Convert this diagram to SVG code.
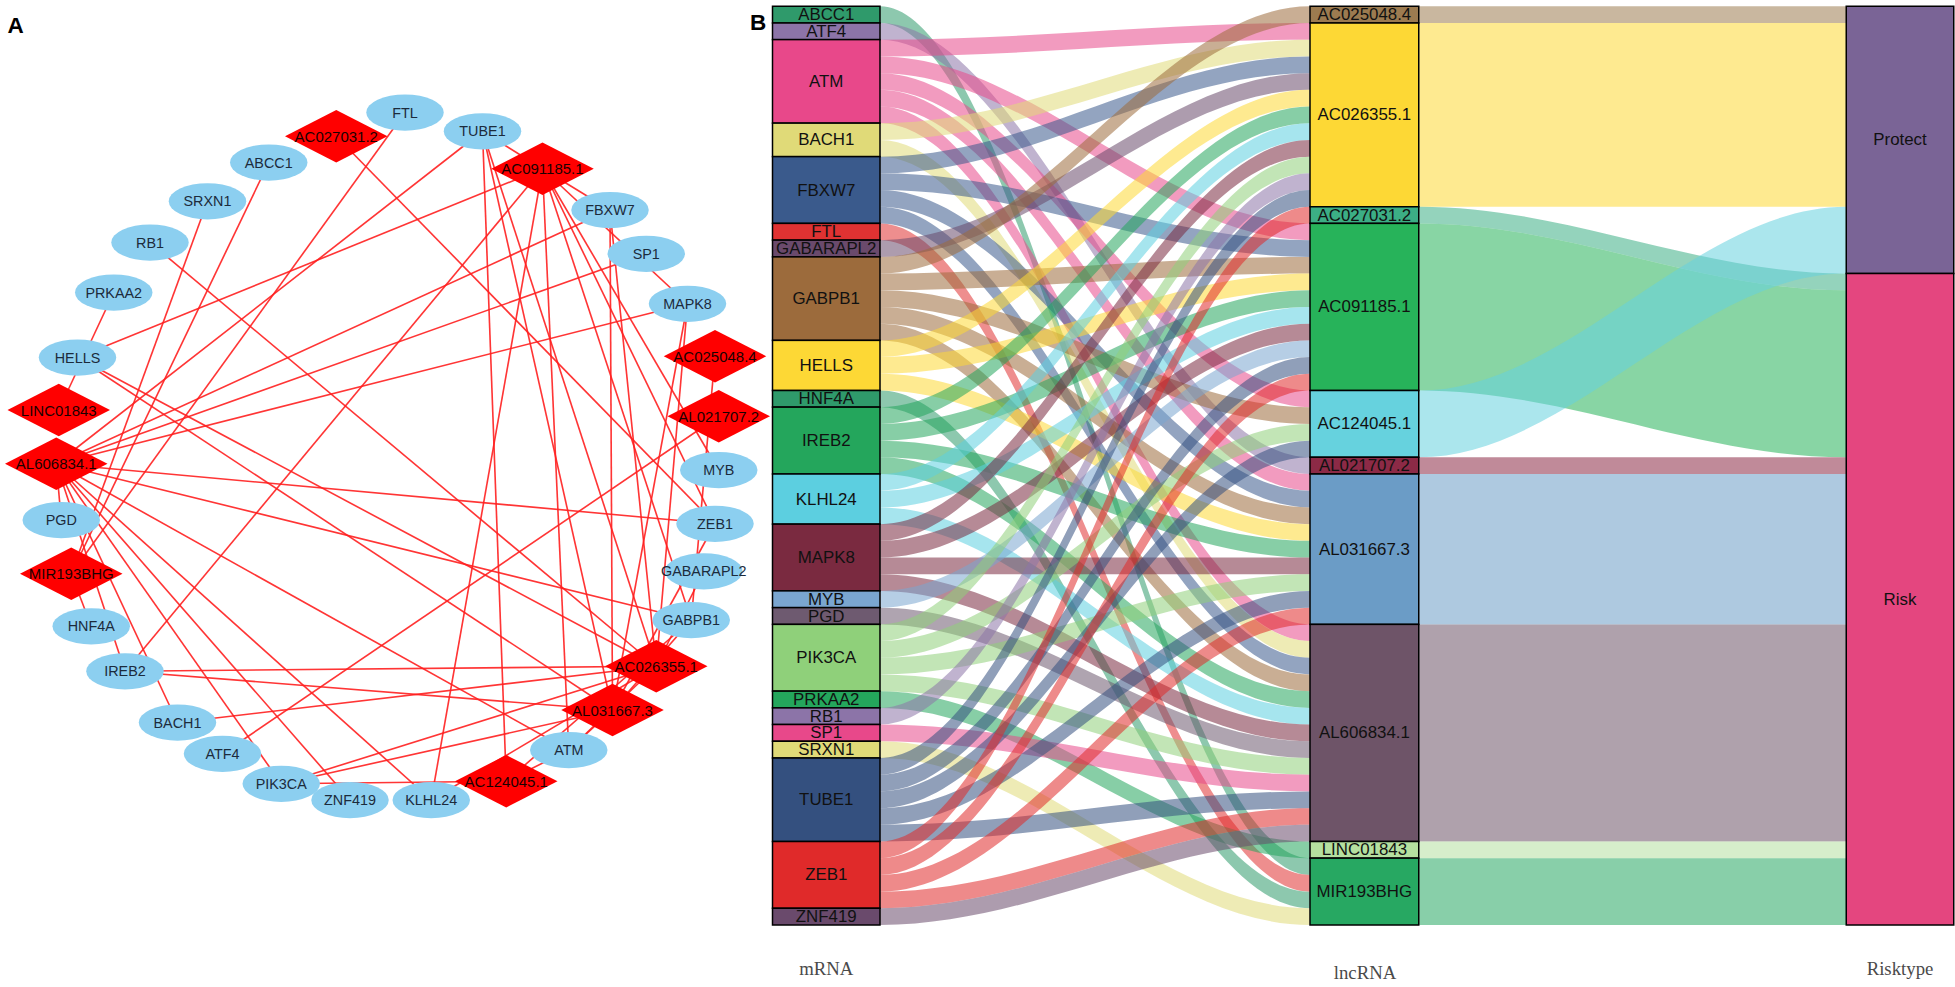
<svg xmlns="http://www.w3.org/2000/svg" width="1955" height="987" viewBox="0 0 1955 987">
<style>
.pl{font-family:"Liberation Sans",Arial,sans-serif;font-weight:bold;font-size:18px;fill:#000}
.el{fill:#8ccff0}
.dm{fill:#ff0000}
.nl{font-family:"Liberation Sans",Arial,sans-serif;font-size:11.5px;fill:#1c2b3c;text-anchor:middle;dominant-baseline:central}
.dl{font-family:"Liberation Sans",Arial,sans-serif;font-size:12px;fill:#1a0000;text-anchor:middle;dominant-baseline:central}
#edges-A line{stroke:#ff2020;stroke-width:1.3;opacity:0.9}
.box{stroke:#000;stroke-width:1.2}
.bl{font-family:"Liberation Sans",Arial,sans-serif;font-size:13.5px;fill:#111;text-anchor:middle;dominant-baseline:central}
.flow{fill-opacity:0.55}
.ax{font-family:"Liberation Serif","Times New Roman",serif;font-size:15px;fill:#4a4a4a;text-anchor:middle}
.ABCC1{fill:#2f9a6b}.ATF4{fill:#8c74a8}.ATM{fill:#e8488a}.BACH1{fill:#e0da78}.FBXW7{fill:#3a5a8c}.FTL{fill:#e03232}
.GABARAPL2{fill:#6a4a6c}.GABPB1{fill:#9c6b3c}.HELLS{fill:#fdd835}.HNF4A{fill:#2f9a6b}.IREB2{fill:#24a65c}.KLHL24{fill:#5ccfe0}
.MAPK8{fill:#7a2a40}.MYB{fill:#7aa6d0}.PGD{fill:#6e5a70}.PIK3CA{fill:#8fd07a}.PRKAA2{fill:#24a65c}.RB1{fill:#8c74a8}
.SP1{fill:#e8488a}.SRXN1{fill:#e0da78}.TUBE1{fill:#34507f}.ZEB1{fill:#e02a2a}.ZNF419{fill:#6a4a6c}
.L1{fill:#9c7b50}.L2{fill:#fdd835}.L3{fill:#3cae85}.L4{fill:#27b35a}.L5{fill:#66d2de}.L6{fill:#8c2a46}.L7{fill:#6b9cc6}.L8{fill:#6e5468}.L9{fill:#b5e0a0}.L10{fill:#27a862}
.PROT{fill:#7a6496}.RISK{fill:#e4467f}
</style>
<rect width="1955" height="987" fill="#fff"/>
<g transform="scale(1.25)">
<text class="pl" x="6" y="26">A</text>
<g id="edges-A">
<line x1="215" y1="130" x2="57" y2="459"/>
<line x1="178" y1="603" x2="575" y2="333"/>
<line x1="455" y1="600" x2="525" y2="533"/>
<line x1="455" y1="600" x2="434" y2="135"/>
<line x1="455" y1="600" x2="405" y2="625"/>
<line x1="455" y1="600" x2="490" y2="568"/>
<line x1="455" y1="600" x2="45" y2="371"/>
<line x1="142" y1="578" x2="525" y2="533"/>
<line x1="142" y1="578" x2="45" y2="371"/>
<line x1="488" y1="168" x2="525" y2="533"/>
<line x1="488" y1="168" x2="434" y2="135"/>
<line x1="488" y1="168" x2="490" y2="568"/>
<line x1="488" y1="168" x2="45" y2="371"/>
<line x1="324" y1="90" x2="57" y2="459"/>
<line x1="563" y1="457" x2="525" y2="533"/>
<line x1="553" y1="496" x2="572" y2="285"/>
<line x1="553" y1="496" x2="434" y2="135"/>
<line x1="553" y1="496" x2="405" y2="625"/>
<line x1="553" y1="496" x2="490" y2="568"/>
<line x1="553" y1="496" x2="45" y2="371"/>
<line x1="62" y1="286" x2="525" y2="533"/>
<line x1="62" y1="286" x2="434" y2="135"/>
<line x1="62" y1="286" x2="490" y2="568"/>
<line x1="73" y1="501" x2="57" y2="459"/>
<line x1="100" y1="537" x2="525" y2="533"/>
<line x1="100" y1="537" x2="434" y2="135"/>
<line x1="100" y1="537" x2="490" y2="568"/>
<line x1="100" y1="537" x2="45" y2="371"/>
<line x1="345" y1="640" x2="525" y2="533"/>
<line x1="345" y1="640" x2="434" y2="135"/>
<line x1="345" y1="640" x2="45" y2="371"/>
<line x1="550" y1="243" x2="525" y2="533"/>
<line x1="550" y1="243" x2="434" y2="135"/>
<line x1="550" y1="243" x2="490" y2="568"/>
<line x1="550" y1="243" x2="45" y2="371"/>
<line x1="575" y1="376" x2="434" y2="135"/>
<line x1="49" y1="416" x2="45" y2="371"/>
<line x1="225" y1="627" x2="525" y2="533"/>
<line x1="225" y1="627" x2="405" y2="625"/>
<line x1="225" y1="627" x2="490" y2="568"/>
<line x1="225" y1="627" x2="45" y2="371"/>
<line x1="91" y1="234" x2="47" y2="328"/>
<line x1="120" y1="194" x2="525" y2="533"/>
<line x1="517" y1="203" x2="45" y2="371"/>
<line x1="166" y1="161" x2="57" y2="459"/>
<line x1="386" y1="105" x2="525" y2="533"/>
<line x1="386" y1="105" x2="434" y2="135"/>
<line x1="386" y1="105" x2="405" y2="625"/>
<line x1="386" y1="105" x2="490" y2="568"/>
<line x1="386" y1="105" x2="45" y2="371"/>
<line x1="572" y1="419" x2="269" y2="109"/>
<line x1="572" y1="419" x2="434" y2="135"/>
<line x1="572" y1="419" x2="490" y2="568"/>
<line x1="572" y1="419" x2="45" y2="371"/>
<line x1="280" y1="640" x2="45" y2="371"/>
</g>
<g id="nodes-A">
<g id="A-FTL"><ellipse class="el" cx="324" cy="90" rx="31" ry="14.5"/><text class="nl" x="324" y="90">FTL</text></g>
<g id="A-TUBE1"><ellipse class="el" cx="386" cy="105" rx="31" ry="14.5"/><text class="nl" x="386" y="105">TUBE1</text></g>
<g id="A-ABCC1"><ellipse class="el" cx="215" cy="130" rx="31" ry="14.5"/><text class="nl" x="215" y="130">ABCC1</text></g>
<g id="A-SRXN1"><ellipse class="el" cx="166" cy="161" rx="31" ry="14.5"/><text class="nl" x="166" y="161">SRXN1</text></g>
<g id="A-FBXW7"><ellipse class="el" cx="488" cy="168" rx="31" ry="14.5"/><text class="nl" x="488" y="168">FBXW7</text></g>
<g id="A-RB1"><ellipse class="el" cx="120" cy="194" rx="31" ry="14.5"/><text class="nl" x="120" y="194">RB1</text></g>
<g id="A-SP1"><ellipse class="el" cx="517" cy="203" rx="31" ry="14.5"/><text class="nl" x="517" y="203">SP1</text></g>
<g id="A-PRKAA2"><ellipse class="el" cx="91" cy="234" rx="31" ry="14.5"/><text class="nl" x="91" y="234">PRKAA2</text></g>
<g id="A-MAPK8"><ellipse class="el" cx="550" cy="243" rx="31" ry="14.5"/><text class="nl" x="550" y="243">MAPK8</text></g>
<g id="A-HELLS"><ellipse class="el" cx="62" cy="286" rx="31" ry="14.5"/><text class="nl" x="62" y="286">HELLS</text></g>
<g id="A-MYB"><ellipse class="el" cx="575" cy="376" rx="31" ry="14.5"/><text class="nl" x="575" y="376">MYB</text></g>
<g id="A-PGD"><ellipse class="el" cx="49" cy="416" rx="31" ry="14.5"/><text class="nl" x="49" y="416">PGD</text></g>
<g id="A-ZEB1"><ellipse class="el" cx="572" cy="419" rx="31" ry="14.5"/><text class="nl" x="572" y="419">ZEB1</text></g>
<g id="A-GABARAPL2"><ellipse class="el" cx="563" cy="457" rx="31" ry="14.5"/><text class="nl" x="563" y="457">GABARAPL2</text></g>
<g id="A-GABPB1"><ellipse class="el" cx="553" cy="496" rx="31" ry="14.5"/><text class="nl" x="553" y="496">GABPB1</text></g>
<g id="A-HNF4A"><ellipse class="el" cx="73" cy="501" rx="31" ry="14.5"/><text class="nl" x="73" y="501">HNF4A</text></g>
<g id="A-IREB2"><ellipse class="el" cx="100" cy="537" rx="31" ry="14.5"/><text class="nl" x="100" y="537">IREB2</text></g>
<g id="A-BACH1"><ellipse class="el" cx="142" cy="578" rx="31" ry="14.5"/><text class="nl" x="142" y="578">BACH1</text></g>
<g id="A-ATM"><ellipse class="el" cx="455" cy="600" rx="31" ry="14.5"/><text class="nl" x="455" y="600">ATM</text></g>
<g id="A-ATF4"><ellipse class="el" cx="178" cy="603" rx="31" ry="14.5"/><text class="nl" x="178" y="603">ATF4</text></g>
<g id="A-PIK3CA"><ellipse class="el" cx="225" cy="627" rx="31" ry="14.5"/><text class="nl" x="225" y="627">PIK3CA</text></g>
<g id="A-ZNF419"><ellipse class="el" cx="280" cy="640" rx="31" ry="14.5"/><text class="nl" x="280" y="640">ZNF419</text></g>
<g id="A-KLHL24"><ellipse class="el" cx="345" cy="640" rx="31" ry="14.5"/><text class="nl" x="345" y="640">KLHL24</text></g>
<g id="A-AC027031.2"><polygon class="dm" points="228,109 269,88 310,109 269,130"/><text class="dl" x="269" y="109">AC027031.2</text></g>
<g id="A-AC091185.1"><polygon class="dm" points="393,135 434,114 475,135 434,156"/><text class="dl" x="434" y="135">AC091185.1</text></g>
<g id="A-AC025048.4"><polygon class="dm" points="531,285 572,264 613,285 572,306"/><text class="dl" x="572" y="285">AC025048.4</text></g>
<g id="A-LINC01843"><polygon class="dm" points="6,328 47,307 88,328 47,349"/><text class="dl" x="47" y="328">LINC01843</text></g>
<g id="A-AL021707.2"><polygon class="dm" points="534,333 575,312 616,333 575,354"/><text class="dl" x="575" y="333">AL021707.2</text></g>
<g id="A-AL606834.1"><polygon class="dm" points="4,371 45,350 86,371 45,392"/><text class="dl" x="45" y="371">AL606834.1</text></g>
<g id="A-MIR193BHG"><polygon class="dm" points="16,459 57,438 98,459 57,480"/><text class="dl" x="57" y="459">MIR193BHG</text></g>
<g id="A-AC026355.1"><polygon class="dm" points="484,533 525,512 566,533 525,554"/><text class="dl" x="525" y="533">AC026355.1</text></g>
<g id="A-AL031667.3"><polygon class="dm" points="449,568 490,547 531,568 490,589"/><text class="dl" x="490" y="568">AL031667.3</text></g>
<g id="A-AC124045.1"><polygon class="dm" points="364,625 405,604 446,625 405,646"/><text class="dl" x="405" y="625">AC124045.1</text></g>
</g>
<g id="flows-B">
<path class="flow ABCC1" d="M704,5C824,5 928,686.5 1048,686.5V699.9C928,699.9 824,18.4 704,18.4Z"/>
<path class="flow ATF4" d="M704,18.4C824,18.4 928,365.8 1048,365.8V379.2C928,379.2 824,31.7 704,31.7Z"/>
<path class="flow ATM" d="M704,31.7C824,31.7 928,18.4 1048,18.4V31.7C928,31.7 824,45.1 704,45.1Z"/>
<path class="flow ATM" d="M704,45.1C824,45.1 928,178.7 1048,178.7V192.1C928,192.1 824,58.5 704,58.5Z"/>
<path class="flow ATM" d="M704,58.5C824,58.5 928,312.4 1048,312.4V325.7C928,325.7 824,71.8 704,71.8Z"/>
<path class="flow ATM" d="M704,71.8C824,71.8 928,379.2 1048,379.2V392.5C928,392.5 824,85.2 704,85.2Z"/>
<path class="flow ATM" d="M704,85.2C824,85.2 928,499.5 1048,499.5V512.8C928,512.8 824,98.5 704,98.5Z"/>
<path class="flow BACH1" d="M704,98.5C824,98.5 928,31.7 1048,31.7V45.1C928,45.1 824,111.9 704,111.9Z"/>
<path class="flow BACH1" d="M704,111.9C824,111.9 928,512.8 1048,512.8V526.2C928,526.2 824,125.3 704,125.3Z"/>
<path class="flow FBXW7" d="M704,125.3C824,125.3 928,45.1 1048,45.1V58.5C928,58.5 824,138.6 704,138.6Z"/>
<path class="flow FBXW7" d="M704,138.6C824,138.6 928,192.1 1048,192.1V205.5C928,205.5 824,152 704,152Z"/>
<path class="flow FBXW7" d="M704,152C824,152 928,392.5 1048,392.5V405.9C928,405.9 824,165.4 704,165.4Z"/>
<path class="flow FBXW7" d="M704,165.4C824,165.4 928,526.2 1048,526.2V539.5C928,539.5 824,178.7 704,178.7Z"/>
<path class="flow FTL" d="M704,178.7C824,178.7 928,699.9 1048,699.9V713.3C928,713.3 824,192.1 704,192.1Z"/>
<path class="flow GABARAPL2" d="M704,192.1C824,192.1 928,58.5 1048,58.5V71.8C928,71.8 824,205.5 704,205.5Z"/>
<path class="flow GABPB1" d="M704,205.5C824,205.5 928,5 1048,5V18.4C928,18.4 824,218.8 704,218.8Z"/>
<path class="flow GABPB1" d="M704,218.8C824,218.8 928,205.5 1048,205.5V218.8C928,218.8 824,232.2 704,232.2Z"/>
<path class="flow GABPB1" d="M704,232.2C824,232.2 928,325.7 1048,325.7V339.1C928,339.1 824,245.5 704,245.5Z"/>
<path class="flow GABPB1" d="M704,245.5C824,245.5 928,405.9 1048,405.9V419.3C928,419.3 824,258.9 704,258.9Z"/>
<path class="flow GABPB1" d="M704,258.9C824,258.9 928,539.5 1048,539.5V552.9C928,552.9 824,272.3 704,272.3Z"/>
<path class="flow HELLS" d="M704,272.3C824,272.3 928,71.8 1048,71.8V85.2C928,85.2 824,285.6 704,285.6Z"/>
<path class="flow HELLS" d="M704,285.6C824,285.6 928,218.8 1048,218.8V232.2C928,232.2 824,299 704,299Z"/>
<path class="flow HELLS" d="M704,299C824,299 928,419.3 1048,419.3V432.6C928,432.6 824,312.4 704,312.4Z"/>
<path class="flow HNF4A" d="M704,312.4C824,312.4 928,713.3 1048,713.3V726.6C928,726.6 824,325.7 704,325.7Z"/>
<path class="flow IREB2" d="M704,325.7C824,325.7 928,85.2 1048,85.2V98.5C928,98.5 824,339.1 704,339.1Z"/>
<path class="flow IREB2" d="M704,339.1C824,339.1 928,232.2 1048,232.2V245.5C928,245.5 824,352.5 704,352.5Z"/>
<path class="flow IREB2" d="M704,352.5C824,352.5 928,432.6 1048,432.6V446C928,446 824,365.8 704,365.8Z"/>
<path class="flow IREB2" d="M704,365.8C824,365.8 928,552.9 1048,552.9V566.3C928,566.3 824,379.2 704,379.2Z"/>
<path class="flow KLHL24" d="M704,379.2C824,379.2 928,98.5 1048,98.5V111.9C928,111.9 824,392.5 704,392.5Z"/>
<path class="flow KLHL24" d="M704,392.5C824,392.5 928,245.5 1048,245.5V258.9C928,258.9 824,405.9 704,405.9Z"/>
<path class="flow KLHL24" d="M704,405.9C824,405.9 928,566.3 1048,566.3V579.6C928,579.6 824,419.3 704,419.3Z"/>
<path class="flow MAPK8" d="M704,419.3C824,419.3 928,111.9 1048,111.9V125.3C928,125.3 824,432.6 704,432.6Z"/>
<path class="flow MAPK8" d="M704,432.6C824,432.6 928,258.9 1048,258.9V272.3C928,272.3 824,446 704,446Z"/>
<path class="flow MAPK8" d="M704,446C824,446 928,446 1048,446V459.4C928,459.4 824,459.4 704,459.4Z"/>
<path class="flow MAPK8" d="M704,459.4C824,459.4 928,579.6 1048,579.6V593C928,593 824,472.7 704,472.7Z"/>
<path class="flow MYB" d="M704,472.7C824,472.7 928,272.3 1048,272.3V285.6C928,285.6 824,486.1 704,486.1Z"/>
<path class="flow PGD" d="M704,486.1C824,486.1 928,593 1048,593V606.4C928,606.4 824,499.5 704,499.5Z"/>
<path class="flow PIK3CA" d="M704,499.5C824,499.5 928,125.3 1048,125.3V138.6C928,138.6 824,512.8 704,512.8Z"/>
<path class="flow PIK3CA" d="M704,512.8C824,512.8 928,339.1 1048,339.1V352.5C928,352.5 824,526.2 704,526.2Z"/>
<path class="flow PIK3CA" d="M704,526.2C824,526.2 928,459.4 1048,459.4V472.7C928,472.7 824,539.5 704,539.5Z"/>
<path class="flow PIK3CA" d="M704,539.5C824,539.5 928,606.4 1048,606.4V619.7C928,619.7 824,552.9 704,552.9Z"/>
<path class="flow PRKAA2" d="M704,552.9C824,552.9 928,673.2 1048,673.2V686.5C928,686.5 824,566.3 704,566.3Z"/>
<path class="flow RB1" d="M704,566.3C824,566.3 928,138.6 1048,138.6V152C928,152 824,579.6 704,579.6Z"/>
<path class="flow SP1" d="M704,579.6C824,579.6 928,619.7 1048,619.7V633.1C928,633.1 824,593 704,593Z"/>
<path class="flow SRXN1" d="M704,593C824,593 928,726.6 1048,726.6V740C928,740 824,606.4 704,606.4Z"/>
<path class="flow TUBE1" d="M704,606.4C824,606.4 928,152 1048,152V165.4C928,165.4 824,619.7 704,619.7Z"/>
<path class="flow TUBE1" d="M704,619.7C824,619.7 928,285.6 1048,285.6V299C928,299 824,633.1 704,633.1Z"/>
<path class="flow TUBE1" d="M704,633.1C824,633.1 928,352.5 1048,352.5V365.8C928,365.8 824,646.5 704,646.5Z"/>
<path class="flow TUBE1" d="M704,646.5C824,646.5 928,472.7 1048,472.7V486.1C928,486.1 824,659.8 704,659.8Z"/>
<path class="flow TUBE1" d="M704,659.8C824,659.8 928,633.1 1048,633.1V646.5C928,646.5 824,673.2 704,673.2Z"/>
<path class="flow ZEB1" d="M704,673.2C824,673.2 928,165.4 1048,165.4V178.7C928,178.7 824,686.5 704,686.5Z"/>
<path class="flow ZEB1" d="M704,686.5C824,686.5 928,299 1048,299V312.4C928,312.4 824,699.9 704,699.9Z"/>
<path class="flow ZEB1" d="M704,699.9C824,699.9 928,486.1 1048,486.1V499.5C928,499.5 824,713.3 704,713.3Z"/>
<path class="flow ZEB1" d="M704,713.3C824,713.3 928,646.5 1048,646.5V659.8C928,659.8 824,726.6 704,726.6Z"/>
<path class="flow ZNF419" d="M704,726.6C824,726.6 928,659.8 1048,659.8V673.2C928,673.2 824,740 704,740Z"/>
<path class="flow L1" d="M1135,5H1477V18.4H1135Z"/>
<path class="flow L2" d="M1135,18.4H1477V165.4H1135Z"/>
<path class="flow L3" d="M1135,165.4C1255,165.4 1357,218.8 1477,218.8V232.2C1357,232.2 1255,178.7 1135,178.7Z"/>
<path class="flow L4" d="M1135,178.7C1255,178.7 1357,232.2 1477,232.2V365.8C1357,365.8 1255,312.4 1135,312.4Z"/>
<path class="flow L5" d="M1135,312.4C1255,312.4 1357,165.4 1477,165.4V218.8C1357,218.8 1255,365.8 1135,365.8Z"/>
<path class="flow L6" d="M1135,365.8H1477V379.2H1135Z"/>
<path class="flow L7" d="M1135,379.2H1477V499.5H1135Z"/>
<path class="flow L8" d="M1135,499.5H1477V673.2H1135Z"/>
<path class="flow L9" d="M1135,673.2H1477V686.5H1135Z"/>
<path class="flow L10" d="M1135,686.5H1477V740H1135Z"/>
</g>
<g id="strata-mRNA">
<g id="B-ABCC1"><rect class="box ABCC1" x="618" y="5" width="86" height="13.4"/><text class="bl" x="661" y="11.7">ABCC1</text></g>
<g id="B-ATF4"><rect class="box ATF4" x="618" y="18.4" width="86" height="13.3"/><text class="bl" x="661" y="25">ATF4</text></g>
<g id="B-ATM"><rect class="box ATM" x="618" y="31.7" width="86" height="66.8"/><text class="bl" x="661" y="65.1">ATM</text></g>
<g id="B-BACH1"><rect class="box BACH1" x="618" y="98.5" width="86" height="26.8"/><text class="bl" x="661" y="111.9">BACH1</text></g>
<g id="B-FBXW7"><rect class="box FBXW7" x="618" y="125.3" width="86" height="53.4"/><text class="bl" x="661" y="152">FBXW7</text></g>
<g id="B-FTL"><rect class="box FTL" x="618" y="178.7" width="86" height="13.4"/><text class="bl" x="661" y="185.4">FTL</text></g>
<g id="B-GABARAPL2"><rect class="box GABARAPL2" x="618" y="192.1" width="86" height="13.4"/><text class="bl" x="661" y="198.8">GABARAPL2</text></g>
<g id="B-GABPB1"><rect class="box GABPB1" x="618" y="205.5" width="86" height="66.8"/><text class="bl" x="661" y="238.9">GABPB1</text></g>
<g id="B-HELLS"><rect class="box HELLS" x="618" y="272.3" width="86" height="40.1"/><text class="bl" x="661" y="292.3">HELLS</text></g>
<g id="B-HNF4A"><rect class="box HNF4A" x="618" y="312.4" width="86" height="13.3"/><text class="bl" x="661" y="319">HNF4A</text></g>
<g id="B-IREB2"><rect class="box IREB2" x="618" y="325.7" width="86" height="53.5"/><text class="bl" x="661" y="352.5">IREB2</text></g>
<g id="B-KLHL24"><rect class="box KLHL24" x="618" y="379.2" width="86" height="40.1"/><text class="bl" x="661" y="399.2">KLHL24</text></g>
<g id="B-MAPK8"><rect class="box MAPK8" x="618" y="419.3" width="86" height="53.4"/><text class="bl" x="661" y="446">MAPK8</text></g>
<g id="B-MYB"><rect class="box MYB" x="618" y="472.7" width="86" height="13.4"/><text class="bl" x="661" y="479.4">MYB</text></g>
<g id="B-PGD"><rect class="box PGD" x="618" y="486.1" width="86" height="13.4"/><text class="bl" x="661" y="492.8">PGD</text></g>
<g id="B-PIK3CA"><rect class="box PIK3CA" x="618" y="499.5" width="86" height="53.4"/><text class="bl" x="661" y="526.2">PIK3CA</text></g>
<g id="B-PRKAA2"><rect class="box PRKAA2" x="618" y="552.9" width="86" height="13.4"/><text class="bl" x="661" y="559.6">PRKAA2</text></g>
<g id="B-RB1"><rect class="box RB1" x="618" y="566.3" width="86" height="13.3"/><text class="bl" x="661" y="573">RB1</text></g>
<g id="B-SP1"><rect class="box SP1" x="618" y="579.6" width="86" height="13.4"/><text class="bl" x="661" y="586.3">SP1</text></g>
<g id="B-SRXN1"><rect class="box SRXN1" x="618" y="593" width="86" height="13.4"/><text class="bl" x="661" y="599.7">SRXN1</text></g>
<g id="B-TUBE1"><rect class="box TUBE1" x="618" y="606.4" width="86" height="66.8"/><text class="bl" x="661" y="639.8">TUBE1</text></g>
<g id="B-ZEB1"><rect class="box ZEB1" x="618" y="673.2" width="86" height="53.4"/><text class="bl" x="661" y="699.9">ZEB1</text></g>
<g id="B-ZNF419"><rect class="box ZNF419" x="618" y="726.6" width="86" height="13.4"/><text class="bl" x="661" y="733.3">ZNF419</text></g>
</g>
<g id="strata-lncRNA">
<g id="B-AC025048.4"><rect class="box L1" x="1048" y="5" width="87" height="13.4"/><text class="bl" x="1091.5" y="11.7">AC025048.4</text></g>
<g id="B-AC026355.1"><rect class="box L2" x="1048" y="18.4" width="87" height="147"/><text class="bl" x="1091.5" y="91.9">AC026355.1</text></g>
<g id="B-AC027031.2"><rect class="box L3" x="1048" y="165.4" width="87" height="13.3"/><text class="bl" x="1091.5" y="172">AC027031.2</text></g>
<g id="B-AC091185.1"><rect class="box L4" x="1048" y="178.7" width="87" height="133.7"/><text class="bl" x="1091.5" y="245.5">AC091185.1</text></g>
<g id="B-AC124045.1"><rect class="box L5" x="1048" y="312.4" width="87" height="53.4"/><text class="bl" x="1091.5" y="339.1">AC124045.1</text></g>
<g id="B-AL021707.2"><rect class="box L6" x="1048" y="365.8" width="87" height="13.4"/><text class="bl" x="1091.5" y="372.5">AL021707.2</text></g>
<g id="B-AL031667.3"><rect class="box L7" x="1048" y="379.2" width="87" height="120.3"/><text class="bl" x="1091.5" y="439.3">AL031667.3</text></g>
<g id="B-AL606834.1"><rect class="box L8" x="1048" y="499.5" width="87" height="173.7"/><text class="bl" x="1091.5" y="586.3">AL606834.1</text></g>
<g id="B-LINC01843"><rect class="box L9" x="1048" y="673.2" width="87" height="13.3"/><text class="bl" x="1091.5" y="679.8">LINC01843</text></g>
<g id="B-MIR193BHG"><rect class="box L10" x="1048" y="686.5" width="87" height="53.5"/><text class="bl" x="1091.5" y="713.3">MIR193BHG</text></g>
</g>
<g id="strata-Risktype">
<g id="B-Protect"><rect class="box PROT" x="1477" y="5" width="86" height="213.8"/><text class="bl" x="1520" y="111.9">Protect</text></g>
<g id="B-Risk"><rect class="box RISK" x="1477" y="218.8" width="86" height="521.2"/><text class="bl" x="1520" y="479.4">Risk</text></g>
</g>
<text class="pl" x="600" y="24">B</text>
<text class="ax" x="661" y="780">mRNA</text>
<text class="ax" x="1092" y="783">lncRNA</text>
<text class="ax" x="1520" y="780">Risktype</text>
</g>
</svg>
